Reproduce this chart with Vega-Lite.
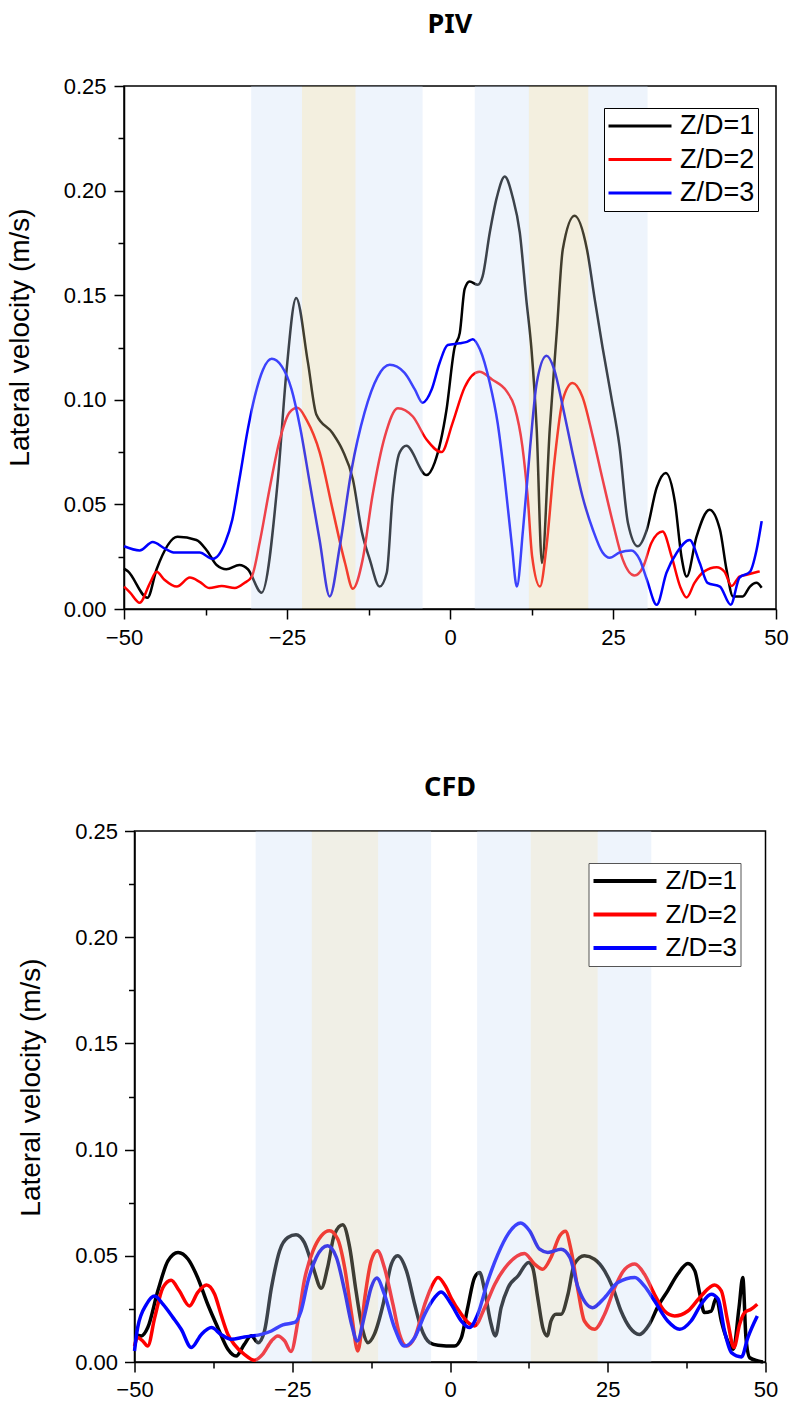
{
  "$schema": "https://vega.github.io/schema/vega-lite/v6.json",
  "background": "white",
  "padding": {"left": 5, "top": 10, "right": 5, "bottom": 5},
  "spacing": 124,
  "center": true,
  "resolve": {"scale": {"color": "independent"}},
  "config": {
    "view": {"stroke": "black", "strokeWidth": 1.5},
    "axis": {"domainColor": "black", "domainWidth": 1.5, "tickColor": "black", "tickWidth": 1.5, "tickSize": 10, "labelColor": "black", "labelFont": "Liberation Sans", "labelFontSize": 22, "labelFlush": false, "grid": false, "titleFont": "Liberation Sans", "titleFontSize": 28, "titleFontWeight": "normal", "titleColor": "black"},
    "title": {"font": "Noto Sans", "fontSize": 27, "fontWeight": "bold", "color": "black", "anchor": "middle", "baseline": "alphabetic"},
    "legend": {"title": null, "orient": "none", "symbolType": "stroke", "symbolSize": 3969, "labelFont": "Liberation Sans", "labelFontSize": 27, "labelColor": "black", "strokeColor": "black", "fillColor": "white", "padding": 3, "clipHeight": 30, "rowPadding": 3.5, "labelOffset": 7}
  },
  "datasets": {
    "piv": [
      {"x": -50, "v": 0.0193, "s": "Z/D=1"}, {"x": -49.4, "v": 0.018, "s": "Z/D=1"}, {"x": -46.4, "v": 0.0054, "s": "Z/D=1"}, {"x": -45.0, "v": 0.019, "s": "Z/D=1"}, {"x": -41.8, "v": 0.0345, "s": "Z/D=1"}, {"x": -38.9, "v": 0.033, "s": "Z/D=1"}, {"x": -37.3, "v": 0.028, "s": "Z/D=1"}, {"x": -35.8, "v": 0.021, "s": "Z/D=1"}, {"x": -34.3, "v": 0.019, "s": "Z/D=1"}, {"x": -32.3, "v": 0.021, "s": "Z/D=1"}, {"x": -31.0, "v": 0.019, "s": "Z/D=1"}, {"x": -28.9, "v": 0.0078, "s": "Z/D=1"}, {"x": -26.4, "v": 0.062, "s": "Z/D=1"}, {"x": -25.1, "v": 0.113, "s": "Z/D=1"}, {"x": -23.6, "v": 0.1487, "s": "Z/D=1"}, {"x": -21.8, "v": 0.118, "s": "Z/D=1"}, {"x": -20.5, "v": 0.093, "s": "Z/D=1"}, {"x": -18.0, "v": 0.084, "s": "Z/D=1"}, {"x": -16.5, "v": 0.076, "s": "Z/D=1"}, {"x": -14.9, "v": 0.062, "s": "Z/D=1"}, {"x": -13.5, "v": 0.0365, "s": "Z/D=1"}, {"x": -12.3, "v": 0.0236, "s": "Z/D=1"}, {"x": -10.8, "v": 0.0107, "s": "Z/D=1"}, {"x": -9.7, "v": 0.0173, "s": "Z/D=1"}, {"x": -8.8, "v": 0.054, "s": "Z/D=1"}, {"x": -7.7, "v": 0.075, "s": "Z/D=1"}, {"x": -6.7, "v": 0.078, "s": "Z/D=1"}, {"x": -3.6, "v": 0.064, "s": "Z/D=1"}, {"x": -2.35, "v": 0.07, "s": "Z/D=1"}, {"x": -0.55, "v": 0.095, "s": "Z/D=1"}, {"x": 0.7, "v": 0.125, "s": "Z/D=1"}, {"x": 1.5, "v": 0.132, "s": "Z/D=1"}, {"x": 2.25, "v": 0.153, "s": "Z/D=1"}, {"x": 3.0, "v": 0.1566, "s": "Z/D=1"}, {"x": 4.25, "v": 0.155, "s": "Z/D=1"}, {"x": 5.0, "v": 0.159, "s": "Z/D=1"}, {"x": 6.1, "v": 0.18, "s": "Z/D=1"}, {"x": 7.2, "v": 0.197, "s": "Z/D=1"}, {"x": 8.4, "v": 0.2067, "s": "Z/D=1"}, {"x": 9.6, "v": 0.197, "s": "Z/D=1"}, {"x": 10.7, "v": 0.18, "s": "Z/D=1"}, {"x": 11.7, "v": 0.148, "s": "Z/D=1"}, {"x": 12.5, "v": 0.124, "s": "Z/D=1"}, {"x": 13.3, "v": 0.0857, "s": "Z/D=1"}, {"x": 14.1, "v": 0.022, "s": "Z/D=1"}, {"x": 15.3, "v": 0.086, "s": "Z/D=1"}, {"x": 16.4, "v": 0.1335, "s": "Z/D=1"}, {"x": 17.3, "v": 0.172, "s": "Z/D=1"}, {"x": 19.1, "v": 0.188, "s": "Z/D=1"}, {"x": 21.0, "v": 0.172, "s": "Z/D=1"}, {"x": 22.2, "v": 0.148, "s": "Z/D=1"}, {"x": 23.4, "v": 0.125, "s": "Z/D=1"}, {"x": 24.7, "v": 0.102, "s": "Z/D=1"}, {"x": 26.0, "v": 0.0777, "s": "Z/D=1"}, {"x": 27.3, "v": 0.041, "s": "Z/D=1"}, {"x": 28.8, "v": 0.03, "s": "Z/D=1"}, {"x": 30.2, "v": 0.038, "s": "Z/D=1"}, {"x": 31.7, "v": 0.058, "s": "Z/D=1"}, {"x": 33.1, "v": 0.065, "s": "Z/D=1"}, {"x": 34.5, "v": 0.051, "s": "Z/D=1"}, {"x": 35.5, "v": 0.025, "s": "Z/D=1"}, {"x": 36.3, "v": 0.0155, "s": "Z/D=1"}, {"x": 37.8, "v": 0.0345, "s": "Z/D=1"}, {"x": 39.8, "v": 0.0475, "s": "Z/D=1"}, {"x": 41.4, "v": 0.038, "s": "Z/D=1"}, {"x": 42.4, "v": 0.019, "s": "Z/D=1"}, {"x": 43.4, "v": 0.006, "s": "Z/D=1"}, {"x": 44.9, "v": 0.006, "s": "Z/D=1"}, {"x": 46.0, "v": 0.0107, "s": "Z/D=1"}, {"x": 47.0, "v": 0.0125, "s": "Z/D=1"}, {"x": 47.8, "v": 0.0102, "s": "Z/D=1"},
      {"x": -50, "v": 0.0107, "s": "Z/D=2"}, {"x": -49.1, "v": 0.008, "s": "Z/D=2"}, {"x": -47.6, "v": 0.003, "s": "Z/D=2"}, {"x": -46.0, "v": 0.0125, "s": "Z/D=2"}, {"x": -45.0, "v": 0.0178, "s": "Z/D=2"}, {"x": -43.8, "v": 0.014, "s": "Z/D=2"}, {"x": -41.9, "v": 0.0107, "s": "Z/D=2"}, {"x": -39.9, "v": 0.015, "s": "Z/D=2"}, {"x": -38.4, "v": 0.013, "s": "Z/D=2"}, {"x": -36.9, "v": 0.01, "s": "Z/D=2"}, {"x": -35.0, "v": 0.011, "s": "Z/D=2"}, {"x": -33.0, "v": 0.01, "s": "Z/D=2"}, {"x": -31.5, "v": 0.0125, "s": "Z/D=2"}, {"x": -30.4, "v": 0.0155, "s": "Z/D=2"}, {"x": -29.2, "v": 0.0317, "s": "Z/D=2"}, {"x": -27.7, "v": 0.057, "s": "Z/D=2"}, {"x": -26.1, "v": 0.081, "s": "Z/D=2"}, {"x": -24.6, "v": 0.094, "s": "Z/D=2"}, {"x": -23.4, "v": 0.0962, "s": "Z/D=2"}, {"x": -22.0, "v": 0.0904, "s": "Z/D=2"}, {"x": -20.0, "v": 0.075, "s": "Z/D=2"}, {"x": -18.0, "v": 0.0475, "s": "Z/D=2"}, {"x": -16.1, "v": 0.022, "s": "Z/D=2"}, {"x": -14.9, "v": 0.0097, "s": "Z/D=2"}, {"x": -13.4, "v": 0.0236, "s": "Z/D=2"}, {"x": -11.9, "v": 0.054, "s": "Z/D=2"}, {"x": -10.0, "v": 0.0824, "s": "Z/D=2"}, {"x": -8.0, "v": 0.096, "s": "Z/D=2"}, {"x": -5.7, "v": 0.092, "s": "Z/D=2"}, {"x": -3.6, "v": 0.081, "s": "Z/D=2"}, {"x": -1.3, "v": 0.075, "s": "Z/D=2"}, {"x": 0.4, "v": 0.089, "s": "Z/D=2"}, {"x": 2.25, "v": 0.106, "s": "Z/D=2"}, {"x": 4.5, "v": 0.1134, "s": "Z/D=2"}, {"x": 6.5, "v": 0.1096, "s": "Z/D=2"}, {"x": 8.7, "v": 0.104, "s": "Z/D=2"}, {"x": 9.9, "v": 0.0966, "s": "Z/D=2"}, {"x": 11.1, "v": 0.0777, "s": "Z/D=2"}, {"x": 11.9, "v": 0.054, "s": "Z/D=2"}, {"x": 12.6, "v": 0.025, "s": "Z/D=2"}, {"x": 13.8, "v": 0.0107, "s": "Z/D=2"}, {"x": 14.8, "v": 0.03, "s": "Z/D=2"}, {"x": 16.0, "v": 0.07, "s": "Z/D=2"}, {"x": 17.3, "v": 0.1, "s": "Z/D=2"}, {"x": 18.8, "v": 0.108, "s": "Z/D=2"}, {"x": 20.3, "v": 0.1015, "s": "Z/D=2"}, {"x": 21.9, "v": 0.0824, "s": "Z/D=2"}, {"x": 23.4, "v": 0.062, "s": "Z/D=2"}, {"x": 25.0, "v": 0.041, "s": "Z/D=2"}, {"x": 26.5, "v": 0.0236, "s": "Z/D=2"}, {"x": 28.3, "v": 0.016, "s": "Z/D=2"}, {"x": 29.6, "v": 0.02, "s": "Z/D=2"}, {"x": 30.9, "v": 0.0317, "s": "Z/D=2"}, {"x": 32.6, "v": 0.037, "s": "Z/D=2"}, {"x": 34.0, "v": 0.025, "s": "Z/D=2"}, {"x": 35.3, "v": 0.0107, "s": "Z/D=2"}, {"x": 36.3, "v": 0.0055, "s": "Z/D=2"}, {"x": 37.5, "v": 0.0125, "s": "Z/D=2"}, {"x": 39.0, "v": 0.018, "s": "Z/D=2"}, {"x": 40.9, "v": 0.02, "s": "Z/D=2"}, {"x": 42.1, "v": 0.0178, "s": "Z/D=2"}, {"x": 43.2, "v": 0.011, "s": "Z/D=2"}, {"x": 44.4, "v": 0.0155, "s": "Z/D=2"}, {"x": 45.5, "v": 0.0164, "s": "Z/D=2"}, {"x": 47.5, "v": 0.018, "s": "Z/D=2"},
      {"x": -50, "v": 0.03, "s": "Z/D=3"}, {"x": -47.6, "v": 0.028, "s": "Z/D=3"}, {"x": -45.6, "v": 0.032, "s": "Z/D=3"}, {"x": -43.8, "v": 0.029, "s": "Z/D=3"}, {"x": -42.2, "v": 0.027, "s": "Z/D=3"}, {"x": -38.4, "v": 0.027, "s": "Z/D=3"}, {"x": -36.4, "v": 0.024, "s": "Z/D=3"}, {"x": -34.5, "v": 0.0317, "s": "Z/D=3"}, {"x": -33.4, "v": 0.0426, "s": "Z/D=3"}, {"x": -32.3, "v": 0.062, "s": "Z/D=3"}, {"x": -31.0, "v": 0.086, "s": "Z/D=3"}, {"x": -29.95, "v": 0.1015, "s": "Z/D=3"}, {"x": -28.7, "v": 0.1143, "s": "Z/D=3"}, {"x": -27.35, "v": 0.1196, "s": "Z/D=3"}, {"x": -25.8, "v": 0.116, "s": "Z/D=3"}, {"x": -24.3, "v": 0.105, "s": "Z/D=3"}, {"x": -23.0, "v": 0.087, "s": "Z/D=3"}, {"x": -21.5, "v": 0.06, "s": "Z/D=3"}, {"x": -20.0, "v": 0.033, "s": "Z/D=3"}, {"x": -18.45, "v": 0.006, "s": "Z/D=3"}, {"x": -16.9, "v": 0.03, "s": "Z/D=3"}, {"x": -15.1, "v": 0.0666, "s": "Z/D=3"}, {"x": -13.1, "v": 0.094, "s": "Z/D=3"}, {"x": -11.1, "v": 0.111, "s": "Z/D=3"}, {"x": -9.25, "v": 0.1167, "s": "Z/D=3"}, {"x": -7.0, "v": 0.113, "s": "Z/D=3"}, {"x": -5.4, "v": 0.105, "s": "Z/D=3"}, {"x": -4.2, "v": 0.0986, "s": "Z/D=3"}, {"x": -2.8, "v": 0.105, "s": "Z/D=3"}, {"x": -1.6, "v": 0.1176, "s": "Z/D=3"}, {"x": -0.35, "v": 0.1262, "s": "Z/D=3"}, {"x": 1.5, "v": 0.127, "s": "Z/D=3"}, {"x": 2.6, "v": 0.1277, "s": "Z/D=3"}, {"x": 3.5, "v": 0.129, "s": "Z/D=3"}, {"x": 4.6, "v": 0.124, "s": "Z/D=3"}, {"x": 6.1, "v": 0.108, "s": "Z/D=3"}, {"x": 7.3, "v": 0.089, "s": "Z/D=3"}, {"x": 8.4, "v": 0.062, "s": "Z/D=3"}, {"x": 9.5, "v": 0.03, "s": "Z/D=3"}, {"x": 10.25, "v": 0.0107, "s": "Z/D=3"}, {"x": 11.2, "v": 0.038, "s": "Z/D=3"}, {"x": 12.3, "v": 0.0777, "s": "Z/D=3"}, {"x": 13.3, "v": 0.108, "s": "Z/D=3"}, {"x": 14.8, "v": 0.121, "s": "Z/D=3"}, {"x": 16.0, "v": 0.1143, "s": "Z/D=3"}, {"x": 17.3, "v": 0.0967, "s": "Z/D=3"}, {"x": 18.8, "v": 0.0745, "s": "Z/D=3"}, {"x": 20.3, "v": 0.054, "s": "Z/D=3"}, {"x": 21.9, "v": 0.038, "s": "Z/D=3"}, {"x": 23.4, "v": 0.027, "s": "Z/D=3"}, {"x": 24.5, "v": 0.0245, "s": "Z/D=3"}, {"x": 26.0, "v": 0.027, "s": "Z/D=3"}, {"x": 27.8, "v": 0.028, "s": "Z/D=3"}, {"x": 29.1, "v": 0.0236, "s": "Z/D=3"}, {"x": 30.2, "v": 0.014, "s": "Z/D=3"}, {"x": 31.7, "v": 0.002, "s": "Z/D=3"}, {"x": 33.2, "v": 0.0173, "s": "Z/D=3"}, {"x": 34.8, "v": 0.027, "s": "Z/D=3"}, {"x": 36.75, "v": 0.033, "s": "Z/D=3"}, {"x": 38.3, "v": 0.022, "s": "Z/D=3"}, {"x": 39.5, "v": 0.0125, "s": "Z/D=3"}, {"x": 41.4, "v": 0.0107, "s": "Z/D=3"}, {"x": 43.05, "v": 0.002, "s": "Z/D=3"}, {"x": 44.4, "v": 0.015, "s": "Z/D=3"}, {"x": 46.0, "v": 0.0178, "s": "Z/D=3"}, {"x": 47.0, "v": 0.028, "s": "Z/D=3"}, {"x": 47.8, "v": 0.042, "s": "Z/D=3"}
    ],
    "cfd": [
      {"x": -50, "v": 0.013, "s": "Z/D=1"}, {"x": -48.9, "v": 0.0123, "s": "Z/D=1"}, {"x": -47.9, "v": 0.0162, "s": "Z/D=1"}, {"x": -46.3, "v": 0.0335, "s": "Z/D=1"}, {"x": -44.7, "v": 0.0476, "s": "Z/D=1"}, {"x": -43.1, "v": 0.0516, "s": "Z/D=1"}, {"x": -41.5, "v": 0.0484, "s": "Z/D=1"}, {"x": -40.0, "v": 0.0398, "s": "Z/D=1"}, {"x": -38.4, "v": 0.0272, "s": "Z/D=1"}, {"x": -36.8, "v": 0.0162, "s": "Z/D=1"}, {"x": -35.2, "v": 0.006, "s": "Z/D=1"}, {"x": -33.9, "v": 0.0028, "s": "Z/D=1"}, {"x": -32.6, "v": 0.0083, "s": "Z/D=1"}, {"x": -31.5, "v": 0.0123, "s": "Z/D=1"}, {"x": -30.4, "v": 0.0091, "s": "Z/D=1"}, {"x": -29.4, "v": 0.0146, "s": "Z/D=1"}, {"x": -28.3, "v": 0.035, "s": "Z/D=1"}, {"x": -27.0, "v": 0.0524, "s": "Z/D=1"}, {"x": -25.7, "v": 0.0586, "s": "Z/D=1"}, {"x": -24.4, "v": 0.0599, "s": "Z/D=1"}, {"x": -23.1, "v": 0.0563, "s": "Z/D=1"}, {"x": -21.7, "v": 0.0445, "s": "Z/D=1"}, {"x": -20.4, "v": 0.0347, "s": "Z/D=1"}, {"x": -19.4, "v": 0.0445, "s": "Z/D=1"}, {"x": -18.3, "v": 0.0602, "s": "Z/D=1"}, {"x": -17.0, "v": 0.0646, "s": "Z/D=1"}, {"x": -15.9, "v": 0.054, "s": "Z/D=1"}, {"x": -14.9, "v": 0.0335, "s": "Z/D=1"}, {"x": -13.8, "v": 0.0146, "s": "Z/D=1"}, {"x": -13.0, "v": 0.0091, "s": "Z/D=1"}, {"x": -12.0, "v": 0.013, "s": "Z/D=1"}, {"x": -10.6, "v": 0.0272, "s": "Z/D=1"}, {"x": -9.3, "v": 0.0461, "s": "Z/D=1"}, {"x": -8.3, "v": 0.05, "s": "Z/D=1"}, {"x": -6.9, "v": 0.0429, "s": "Z/D=1"}, {"x": -5.6, "v": 0.0272, "s": "Z/D=1"}, {"x": -4.6, "v": 0.0162, "s": "Z/D=1"}, {"x": -3.2, "v": 0.0091, "s": "Z/D=1"}, {"x": -1.9, "v": 0.0079, "s": "Z/D=1"}, {"x": 0.7, "v": 0.0075, "s": "Z/D=1"}, {"x": 1.8, "v": 0.0115, "s": "Z/D=1"}, {"x": 2.8, "v": 0.0256, "s": "Z/D=1"}, {"x": 3.9, "v": 0.0398, "s": "Z/D=1"}, {"x": 4.7, "v": 0.0421, "s": "Z/D=1"}, {"x": 5.5, "v": 0.0335, "s": "Z/D=1"}, {"x": 6.4, "v": 0.0193, "s": "Z/D=1"}, {"x": 7.2, "v": 0.0123, "s": "Z/D=1"}, {"x": 8.1, "v": 0.0256, "s": "Z/D=1"}, {"x": 9.2, "v": 0.035, "s": "Z/D=1"}, {"x": 10.8, "v": 0.0406, "s": "Z/D=1"}, {"x": 12.45, "v": 0.0469, "s": "Z/D=1"}, {"x": 13.1, "v": 0.0445, "s": "Z/D=1"}, {"x": 13.9, "v": 0.0303, "s": "Z/D=1"}, {"x": 14.7, "v": 0.0162, "s": "Z/D=1"}, {"x": 15.4, "v": 0.0123, "s": "Z/D=1"}, {"x": 16.0, "v": 0.0193, "s": "Z/D=1"}, {"x": 16.8, "v": 0.0225, "s": "Z/D=1"}, {"x": 17.6, "v": 0.0225, "s": "Z/D=1"}, {"x": 18.7, "v": 0.0319, "s": "Z/D=1"}, {"x": 19.7, "v": 0.0461, "s": "Z/D=1"}, {"x": 21.3, "v": 0.05, "s": "Z/D=1"}, {"x": 22.9, "v": 0.0484, "s": "Z/D=1"}, {"x": 24.5, "v": 0.0429, "s": "Z/D=1"}, {"x": 25.8, "v": 0.035, "s": "Z/D=1"}, {"x": 27.1, "v": 0.024, "s": "Z/D=1"}, {"x": 28.5, "v": 0.0162, "s": "Z/D=1"}, {"x": 30.0, "v": 0.013, "s": "Z/D=1"}, {"x": 31.6, "v": 0.0178, "s": "Z/D=1"}, {"x": 33.0, "v": 0.0264, "s": "Z/D=1"}, {"x": 34.5, "v": 0.0335, "s": "Z/D=1"}, {"x": 36.1, "v": 0.0414, "s": "Z/D=1"}, {"x": 37.7, "v": 0.0464, "s": "Z/D=1"}, {"x": 38.8, "v": 0.0429, "s": "Z/D=1"}, {"x": 39.6, "v": 0.0319, "s": "Z/D=1"}, {"x": 40.3, "v": 0.0233, "s": "Z/D=1"}, {"x": 41.4, "v": 0.024, "s": "Z/D=1"}, {"x": 42.2, "v": 0.0303, "s": "Z/D=1"}, {"x": 43.0, "v": 0.0193, "s": "Z/D=1"}, {"x": 44.0, "v": 0.0099, "s": "Z/D=1"}, {"x": 44.9, "v": 0.006, "s": "Z/D=1"}, {"x": 45.8, "v": 0.0256, "s": "Z/D=1"}, {"x": 46.4, "v": 0.0398, "s": "Z/D=1"}, {"x": 46.9, "v": 0.0115, "s": "Z/D=1"}, {"x": 47.5, "v": 0.002, "s": "Z/D=1"}, {"x": 48.8, "v": 0.0005, "s": "Z/D=1"}, {"x": 49.6, "v": 0.0, "s": "Z/D=1"},
      {"x": -50, "v": 0.0075, "s": "Z/D=2"}, {"x": -49.5, "v": 0.0115, "s": "Z/D=2"}, {"x": -48.7, "v": 0.0099, "s": "Z/D=2"}, {"x": -47.9, "v": 0.0075, "s": "Z/D=2"}, {"x": -46.8, "v": 0.0209, "s": "Z/D=2"}, {"x": -45.5, "v": 0.035, "s": "Z/D=2"}, {"x": -44.2, "v": 0.0385, "s": "Z/D=2"}, {"x": -42.9, "v": 0.0335, "s": "Z/D=2"}, {"x": -41.3, "v": 0.0264, "s": "Z/D=2"}, {"x": -40.0, "v": 0.0327, "s": "Z/D=2"}, {"x": -38.6, "v": 0.0363, "s": "Z/D=2"}, {"x": -37.3, "v": 0.0319, "s": "Z/D=2"}, {"x": -36.3, "v": 0.0225, "s": "Z/D=2"}, {"x": -35.2, "v": 0.013, "s": "Z/D=2"}, {"x": -34.2, "v": 0.0083, "s": "Z/D=2"}, {"x": -32.6, "v": 0.0036, "s": "Z/D=2"}, {"x": -31.0, "v": 0.0008, "s": "Z/D=2"}, {"x": -29.7, "v": 0.0036, "s": "Z/D=2"}, {"x": -28.3, "v": 0.0099, "s": "Z/D=2"}, {"x": -27.3, "v": 0.0123, "s": "Z/D=2"}, {"x": -26.2, "v": 0.0099, "s": "Z/D=2"}, {"x": -25.2, "v": 0.0049, "s": "Z/D=2"}, {"x": -24.1, "v": 0.0193, "s": "Z/D=2"}, {"x": -23.1, "v": 0.0382, "s": "Z/D=2"}, {"x": -21.7, "v": 0.0524, "s": "Z/D=2"}, {"x": -20.4, "v": 0.0594, "s": "Z/D=2"}, {"x": -19.1, "v": 0.0618, "s": "Z/D=2"}, {"x": -17.8, "v": 0.0579, "s": "Z/D=2"}, {"x": -16.7, "v": 0.0445, "s": "Z/D=2"}, {"x": -15.6, "v": 0.0225, "s": "Z/D=2"}, {"x": -14.6, "v": 0.0052, "s": "Z/D=2"}, {"x": -13.5, "v": 0.0303, "s": "Z/D=2"}, {"x": -12.5, "v": 0.0476, "s": "Z/D=2"}, {"x": -11.5, "v": 0.0524, "s": "Z/D=2"}, {"x": -10.4, "v": 0.0445, "s": "Z/D=2"}, {"x": -9.05, "v": 0.0272, "s": "Z/D=2"}, {"x": -8.0, "v": 0.013, "s": "Z/D=2"}, {"x": -6.9, "v": 0.0075, "s": "Z/D=2"}, {"x": -5.6, "v": 0.0115, "s": "Z/D=2"}, {"x": -4.0, "v": 0.0272, "s": "Z/D=2"}, {"x": -3.0, "v": 0.035, "s": "Z/D=2"}, {"x": -1.9, "v": 0.0398, "s": "Z/D=2"}, {"x": -0.6, "v": 0.035, "s": "Z/D=2"}, {"x": 0.2, "v": 0.03, "s": "Z/D=2"}, {"x": 1.8, "v": 0.0225, "s": "Z/D=2"}, {"x": 3.1, "v": 0.018, "s": "Z/D=2"}, {"x": 3.9, "v": 0.017, "s": "Z/D=2"}, {"x": 5.5, "v": 0.0256, "s": "Z/D=2"}, {"x": 7.1, "v": 0.0366, "s": "Z/D=2"}, {"x": 9.2, "v": 0.0461, "s": "Z/D=2"}, {"x": 11.8, "v": 0.0511, "s": "Z/D=2"}, {"x": 13.4, "v": 0.0461, "s": "Z/D=2"}, {"x": 14.7, "v": 0.0437, "s": "Z/D=2"}, {"x": 16.0, "v": 0.0492, "s": "Z/D=2"}, {"x": 17.4, "v": 0.0594, "s": "Z/D=2"}, {"x": 18.3, "v": 0.0615, "s": "Z/D=2"}, {"x": 19.2, "v": 0.0524, "s": "Z/D=2"}, {"x": 20.3, "v": 0.0335, "s": "Z/D=2"}, {"x": 21.3, "v": 0.0193, "s": "Z/D=2"}, {"x": 22.9, "v": 0.0154, "s": "Z/D=2"}, {"x": 24.5, "v": 0.0225, "s": "Z/D=2"}, {"x": 26.1, "v": 0.035, "s": "Z/D=2"}, {"x": 27.7, "v": 0.0437, "s": "Z/D=2"}, {"x": 29.3, "v": 0.0461, "s": "Z/D=2"}, {"x": 30.8, "v": 0.0414, "s": "Z/D=2"}, {"x": 32.4, "v": 0.0319, "s": "Z/D=2"}, {"x": 34.0, "v": 0.024, "s": "Z/D=2"}, {"x": 35.6, "v": 0.0217, "s": "Z/D=2"}, {"x": 37.7, "v": 0.024, "s": "Z/D=2"}, {"x": 39.8, "v": 0.0311, "s": "Z/D=2"}, {"x": 41.9, "v": 0.0363, "s": "Z/D=2"}, {"x": 43.0, "v": 0.0335, "s": "Z/D=2"}, {"x": 44.0, "v": 0.0193, "s": "Z/D=2"}, {"x": 45.0, "v": 0.0068, "s": "Z/D=2"}, {"x": 45.9, "v": 0.0178, "s": "Z/D=2"}, {"x": 46.7, "v": 0.0233, "s": "Z/D=2"}, {"x": 47.7, "v": 0.0248, "s": "Z/D=2"}, {"x": 48.7, "v": 0.0272, "s": "Z/D=2"},
      {"x": -50, "v": 0.0052, "s": "Z/D=3"}, {"x": -49.5, "v": 0.0162, "s": "Z/D=3"}, {"x": -48.1, "v": 0.0272, "s": "Z/D=3"}, {"x": -46.8, "v": 0.0311, "s": "Z/D=3"}, {"x": -45.5, "v": 0.0272, "s": "Z/D=3"}, {"x": -43.9, "v": 0.0209, "s": "Z/D=3"}, {"x": -42.6, "v": 0.0154, "s": "Z/D=3"}, {"x": -41.0, "v": 0.0068, "s": "Z/D=3"}, {"x": -39.4, "v": 0.013, "s": "Z/D=3"}, {"x": -37.8, "v": 0.0162, "s": "Z/D=3"}, {"x": -36.3, "v": 0.013, "s": "Z/D=3"}, {"x": -34.7, "v": 0.0107, "s": "Z/D=3"}, {"x": -32.6, "v": 0.0118, "s": "Z/D=3"}, {"x": -29.9, "v": 0.013, "s": "Z/D=3"}, {"x": -28.3, "v": 0.0146, "s": "Z/D=3"}, {"x": -26.5, "v": 0.0175, "s": "Z/D=3"}, {"x": -24.6, "v": 0.0186, "s": "Z/D=3"}, {"x": -23.6, "v": 0.024, "s": "Z/D=3"}, {"x": -22.5, "v": 0.0382, "s": "Z/D=3"}, {"x": -21.2, "v": 0.0492, "s": "Z/D=3"}, {"x": -19.4, "v": 0.0547, "s": "Z/D=3"}, {"x": -18.0, "v": 0.0492, "s": "Z/D=3"}, {"x": -16.7, "v": 0.0335, "s": "Z/D=3"}, {"x": -15.6, "v": 0.0178, "s": "Z/D=3"}, {"x": -14.7, "v": 0.0099, "s": "Z/D=3"}, {"x": -13.5, "v": 0.0225, "s": "Z/D=3"}, {"x": -12.5, "v": 0.035, "s": "Z/D=3"}, {"x": -11.6, "v": 0.0395, "s": "Z/D=3"}, {"x": -10.4, "v": 0.0319, "s": "Z/D=3"}, {"x": -8.8, "v": 0.0162, "s": "Z/D=3"}, {"x": -7.2, "v": 0.0075, "s": "Z/D=3"}, {"x": -5.6, "v": 0.0115, "s": "Z/D=3"}, {"x": -4.0, "v": 0.0225, "s": "Z/D=3"}, {"x": -2.45, "v": 0.0303, "s": "Z/D=3"}, {"x": -1.4, "v": 0.033, "s": "Z/D=3"}, {"x": 0.2, "v": 0.0272, "s": "Z/D=3"}, {"x": 1.8, "v": 0.0193, "s": "Z/D=3"}, {"x": 3.1, "v": 0.0162, "s": "Z/D=3"}, {"x": 4.4, "v": 0.0225, "s": "Z/D=3"}, {"x": 6.0, "v": 0.0382, "s": "Z/D=3"}, {"x": 7.6, "v": 0.0508, "s": "Z/D=3"}, {"x": 9.2, "v": 0.0602, "s": "Z/D=3"}, {"x": 11.2, "v": 0.0654, "s": "Z/D=3"}, {"x": 12.6, "v": 0.0618, "s": "Z/D=3"}, {"x": 14.2, "v": 0.0531, "s": "Z/D=3"}, {"x": 15.5, "v": 0.0516, "s": "Z/D=3"}, {"x": 17.6, "v": 0.0531, "s": "Z/D=3"}, {"x": 19.0, "v": 0.0492, "s": "Z/D=3"}, {"x": 20.3, "v": 0.035, "s": "Z/D=3"}, {"x": 22.6, "v": 0.0256, "s": "Z/D=3"}, {"x": 24.5, "v": 0.0303, "s": "Z/D=3"}, {"x": 26.6, "v": 0.0374, "s": "Z/D=3"}, {"x": 29.3, "v": 0.0398, "s": "Z/D=3"}, {"x": 30.8, "v": 0.0358, "s": "Z/D=3"}, {"x": 32.4, "v": 0.0288, "s": "Z/D=3"}, {"x": 34.5, "v": 0.0193, "s": "Z/D=3"}, {"x": 36.4, "v": 0.0154, "s": "Z/D=3"}, {"x": 38.2, "v": 0.0193, "s": "Z/D=3"}, {"x": 39.8, "v": 0.0272, "s": "Z/D=3"}, {"x": 41.4, "v": 0.0319, "s": "Z/D=3"}, {"x": 42.5, "v": 0.0296, "s": "Z/D=3"}, {"x": 43.5, "v": 0.0146, "s": "Z/D=3"}, {"x": 44.6, "v": 0.0044, "s": "Z/D=3"}, {"x": 46.2, "v": 0.0024, "s": "Z/D=3"}, {"x": 47.2, "v": 0.0115, "s": "Z/D=3"}, {"x": 48.7, "v": 0.0217, "s": "Z/D=3"}
    ],
    "bands_piv": [
      {"x1": -30.5, "x2": -22.7, "kind": "blue"}, {"x1": -22.7, "x2": -14.5, "kind": "beige"}, {"x1": -14.5, "x2": -4.2, "kind": "blue"},
      {"x1": 3.8, "x2": 12.1, "kind": "blue"}, {"x1": 12.1, "x2": 21.2, "kind": "beige"}, {"x1": 21.2, "x2": 30.3, "kind": "blue"}
    ],
    "bands_cfd": [
      {"x1": -30.8, "x2": -21.9, "kind": "blue"}, {"x1": -21.9, "x2": -11.4, "kind": "beige"}, {"x1": -11.4, "x2": -3.0, "kind": "blue"},
      {"x1": 4.3, "x2": 12.8, "kind": "blue"}, {"x1": 12.8, "x2": 23.4, "kind": "beige"}, {"x1": 23.4, "x2": 31.9, "kind": "blue"}
    ]
  },
  "vconcat": [
    {
      "width": 652,
      "height": 523,
      "title": {"text": "PIV", "offset": 36},
      "resolve": {"axis": {"x": "independent", "y": "independent"}},
      "layer": [
        {
          "data": {"name": "piv"},
          "mark": {"type": "line", "interpolate": "monotone", "strokeWidth": 2.5},
          "encoding": {
            "x": {"field": "x", "type": "quantitative", "scale": {"domain": [-50, 50], "nice": false, "zero": false}, "axis": {"orient": "bottom", "values": [-50, -25, 0, 25, 50], "title": null, "labelPadding": 8, "format": "d"}},
            "y": {"field": "v", "type": "quantitative", "scale": {"domain": [0, 0.25], "nice": false}, "axis": {"orient": "left", "values": [0, 0.05, 0.1, 0.15, 0.2, 0.25], "title": "Lateral velocity (m/s)", "titlePadding": 29, "titleY": 251, "labelPadding": 8, "format": ".2f"}},
            "color": {"field": "s", "type": "nominal", "scale": {"domain": ["Z/D=1", "Z/D=2", "Z/D=3"], "range": ["#000000", "#ff0000", "#0000ff"]}, "legend": {"legendX": 480, "legendY": 22, "symbolStrokeWidth": 3}}
          }
        },
        {
          "data": {"name": "bands_piv"},
          "transform": [{"filter": "datum.kind === 'blue'"}],
          "mark": {"type": "rect", "color": "#c8dcf5", "opacity": 0.3},
          "encoding": {"x": {"field": "x1", "type": "quantitative", "axis": null}, "x2": {"field": "x2"}}
        },
        {
          "data": {"name": "bands_piv"},
          "transform": [{"filter": "datum.kind === 'beige'"}],
          "mark": {"type": "rect", "color": "#d7ca94", "opacity": 0.3},
          "encoding": {"x": {"field": "x1", "type": "quantitative", "axis": null}, "x2": {"field": "x2"}}
        },
        {
          "data": {"name": "piv"},
          "mark": {"type": "point", "opacity": 0},
          "encoding": {
            "x": {"field": "x", "type": "quantitative", "axis": {"orient": "bottom", "values": [-37.5, -12.5, 12.5, 37.5], "labels": false, "domain": false, "tickSize": 6, "title": null}},
            "y": {"field": "v", "type": "quantitative", "axis": {"orient": "left", "values": [0.025, 0.075, 0.125, 0.175, 0.225], "labels": false, "domain": false, "tickSize": 6, "title": null}}
          }
        }
      ]
    },
    {
      "width": 631,
      "height": 531,
      "title": {"text": "CFD", "offset": 18},
      "resolve": {"axis": {"x": "independent", "y": "independent"}},
      "layer": [
        {
          "data": {"name": "cfd"},
          "mark": {"type": "line", "interpolate": "monotone", "strokeWidth": 3.5},
          "encoding": {
            "x": {"field": "x", "type": "quantitative", "scale": {"domain": [-50, 50], "nice": false, "zero": false}, "axis": {"orient": "bottom", "values": [-50, -25, 0, 25, 50], "title": null, "labelPadding": 7, "format": "d"}},
            "y": {"field": "v", "type": "quantitative", "scale": {"domain": [0, 0.25], "nice": false}, "axis": {"orient": "left", "values": [0, 0.05, 0.1, 0.15, 0.2, 0.25], "title": "Lateral velocity (m/s)", "titlePadding": 29, "titleY": 256, "labelPadding": 7, "format": ".2f"}},
            "color": {"field": "s", "type": "nominal", "scale": {"domain": ["Z/D=1", "Z/D=2", "Z/D=3"], "range": ["#000000", "#ff0000", "#0000ff"]}, "legend": {"legendX": 454, "legendY": 32, "symbolStrokeWidth": 4, "strokeColor": "#555555", "labelFontSize": 26}}
          }
        },
        {
          "data": {"name": "bands_cfd"},
          "transform": [{"filter": "datum.kind === 'blue'"}],
          "mark": {"type": "rect", "color": "#c8dcf5", "opacity": 0.3},
          "encoding": {"x": {"field": "x1", "type": "quantitative", "axis": null}, "x2": {"field": "x2"}}
        },
        {
          "data": {"name": "bands_cfd"},
          "transform": [{"filter": "datum.kind === 'beige'"}],
          "mark": {"type": "rect", "color": "#cdcaac", "opacity": 0.3},
          "encoding": {"x": {"field": "x1", "type": "quantitative", "axis": null}, "x2": {"field": "x2"}}
        },
        {
          "data": {"name": "cfd"},
          "mark": {"type": "point", "opacity": 0},
          "encoding": {
            "x": {"field": "x", "type": "quantitative", "axis": {"orient": "bottom", "values": [-37.5, -12.5, 12.5, 37.5], "labels": false, "domain": false, "tickSize": 6, "title": null}},
            "y": {"field": "v", "type": "quantitative", "axis": {"orient": "left", "values": [0.025, 0.075, 0.125, 0.175, 0.225], "labels": false, "domain": false, "tickSize": 6, "title": null}}
          }
        }
      ]
    }
  ]
}
